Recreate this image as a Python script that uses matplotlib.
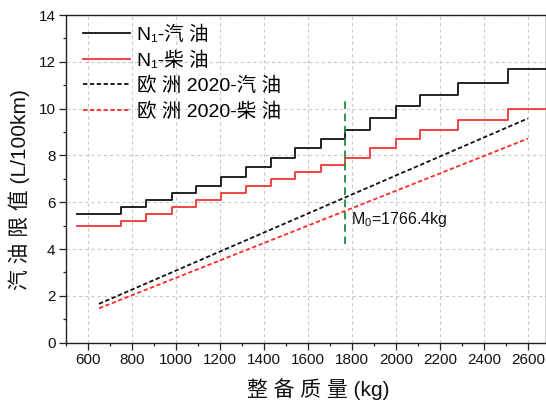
import matplotlib
matplotlib.use("Agg")
import matplotlib.pyplot as plt
from matplotlib.ticker import MultipleLocator

plt.rcParams['font.family'] = ['Liberation Sans', 'Noto Sans CJK SC', 'DejaVu Sans']
plt.rcParams['mathtext.fontset'] = 'custom'
plt.rcParams['mathtext.rm'] = 'Liberation Sans'
plt.rcParams['mathtext.it'] = 'Liberation Sans:italic'
plt.rcParams['axes.unicode_minus'] = False

# Curb-mass segment boundaries (kg) and the stepped N1 limits (L/100km)
mass_edges = [550, 750, 865, 980, 1090, 1205, 1320, 1430, 1540, 1660,
              1770, 1880, 2000, 2110, 2280, 2510]
n1_gasoline = [5.5, 5.8, 6.1, 6.4, 6.7, 7.1, 7.5, 7.9, 8.3, 8.7,
               9.1, 9.6, 10.1, 10.6, 11.1, 11.7]
n1_diesel = [5.0, 5.2, 5.5, 5.8, 6.1, 6.4, 6.7, 7.0, 7.3, 7.6,
             7.9, 8.3, 8.7, 9.1, 9.5, 10.0]

# EU 2020 linear targets (L/100km) at the ends of the mass range
eu_mass = [650, 2600]
eu_gasoline = [1.66, 9.58]
eu_diesel = [1.47, 8.72]

# Reference mass M0 and the span of its marker line
m0 = 1766.4
m0_span = [4.2, 10.4]

x_min, x_max = 500, 2680
y_min, y_max = 0, 14

fig = plt.figure(figsize=(5.46, 4.00), dpi=100)
ax = fig.add_axes([66 / 546, 1 - 342.7 / 400, 479.5 / 546, 327.7 / 400])

# Extend the last step level to the right edge of the plot
step_x = mass_edges + [x_max]
ax.plot(step_x, n1_gasoline + [n1_gasoline[-1]], drawstyle='steps-post',
        color='#111111', lw=1.3, label='N\u2081-汽 油', zorder=3)
ax.plot(step_x, n1_diesel + [n1_diesel[-1]], drawstyle='steps-post',
        color='#f03535', lw=1.3, label='N\u2081-柴 油', zorder=3)
ax.plot(eu_mass, eu_gasoline, color='#111111', lw=1.3, dashes=(2.4, 1.4),
        label='欧 洲 2020-汽 油', zorder=3)
ax.plot(eu_mass, eu_diesel, color='#ff2a2a', lw=1.3, dashes=(2.4, 1.4),
        label='欧 洲 2020-柴 油', zorder=3)

ax.plot([m0, m0], m0_span, color='#1e8c3a', lw=1.3, dashes=(4.2, 2.6), zorder=3)
ax.text(m0 + 28, 5.26, f'M$_0$={m0}kg', fontsize=11.5, ha='left', va='center',
        color='#111111')

ax.set_xlim(x_min, x_max)
ax.set_ylim(y_min, y_max)
ax.xaxis.set_major_locator(MultipleLocator(200))
ax.xaxis.set_minor_locator(MultipleLocator(100))
ax.yaxis.set_major_locator(MultipleLocator(2))
ax.yaxis.set_minor_locator(MultipleLocator(1))
ax.set_xticks(range(600, 2601, 200))

ax.grid(True, which='major', color='#c8c8c8', lw=0.8, dashes=(2.8, 2.8))
ax.set_axisbelow(True)

for side in ['left', 'bottom', 'top', 'right']:
    ax.spines[side].set_linewidth(1.0)
    ax.spines[side].set_color('#222222')

ax.tick_params(which='major', direction='out', length=5, width=0.9,
               labelsize=11, pad=2.5, colors='#222222')
ax.tick_params(which='minor', direction='out', length=2.5, width=0.9,
               colors='#222222')
ax.tick_params(axis='both', labelcolor='#111111')

ax.set_xlabel('整 备 质 量 (kg)', fontsize=15, color='#111111')
ax.set_ylabel('汽 油 限 值 (L/100km)', fontsize=15, color='#111111')
ax.xaxis.set_label_coords(0.526, -0.108)
ax.yaxis.set_label_coords(-0.076, 0.466)

ax.legend(loc='upper left', bbox_to_anchor=(0.036, 0.967), frameon=False,
          fontsize=14, handlelength=2.4, handletextpad=0.35,
          borderpad=0, borderaxespad=0, labelspacing=0.37)

fig.savefig('out.png', dpi=100)
